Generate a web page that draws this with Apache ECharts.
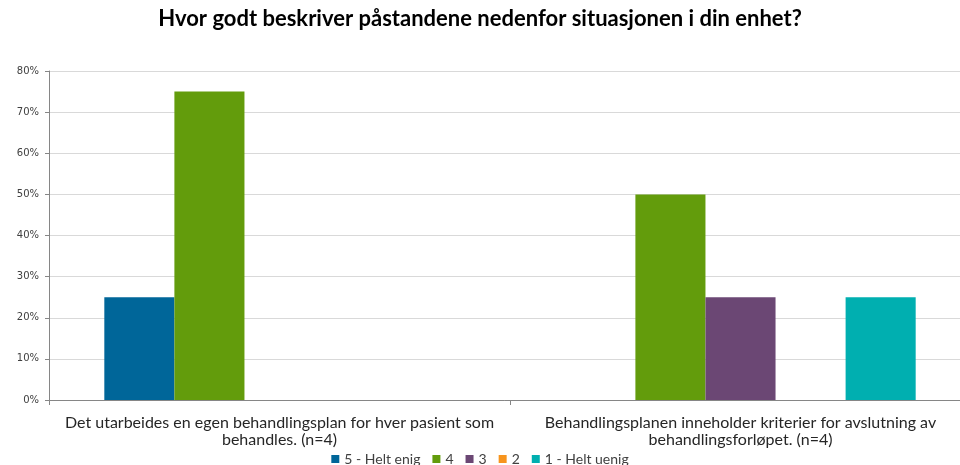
<!DOCTYPE html>
<html><head><meta charset="utf-8">
<script src="https://cdn.jsdelivr.net/npm/echarts@6/dist/echarts.min.js"></script>
<style>html,body{margin:0;padding:0;background:#fff}#c{width:960px;height:465px}</style>
</head><body><div id="c"></div>
<script>
var titleText = 'Hvor godt beskriver påstandene nedenfor situasjonen i din enhet?';
var categories = [
  'Det utarbeides en egen behandlingsplan for hver pasient som\nbehandles. (n=4)',
  'Behandlingsplanen inneholder kriterier for avslutning av\nbehandlingsforløpet. (n=4)'
];
var seriesNames = ['5 - Helt enig', '4', '3', '2', '1 - Helt uenig'];
var seriesColors = ['#006699', '#639C0C', '#6B4774', '#F7941D', '#00AFB0'];
var s5 = [25, 0];
var s4 = [75, 50];
var s3 = [0, 25];
var s2 = [0, 0];
var s1 = [0, 25];
var yTicks = [0, 10, 20, 30, 40, 50, 60, 70, 80];
var seriesData = [s5, s4, s3, s2, s1];

var font = "Lato, 'Open Sans', sans-serif";
var chart = echarts.init(document.getElementById('c'));
chart.setOption({
  animation: false,
  title: {
    text: titleText, left: 'center', top: 8, padding: 0,
    textStyle: { fontFamily: font, fontSize: 22, fontWeight: 'bold', color: '#000' }
  },
  legend: {
    top: 452, left: 'center', itemWidth: 8, itemHeight: 8, itemGap: 12, padding: 0,
    icon: 'rect',
    data: seriesNames,
    textStyle: { fontFamily: font, fontSize: 14, color: '#404040' }
  },
  grid: { left: 49, top: 71, width: 922, height: 329, containLabel: false, outerBoundsMode: 'none' },
  xAxis: {
    type: 'category', data: categories,
    axisLine: { lineStyle: { color: '#868686' } },
    axisTick: { show: true, length: 5, lineStyle: { color: '#868686' } },
    axisLabel: { fontFamily: font, fontSize: 16, color: '#262626', lineHeight: 17, margin: 14, interval: 0 }
  },
  yAxis: {
    type: 'value', min: yTicks[0], max: yTicks[yTicks.length - 1], interval: 10,
    axisLine: { show: true, lineStyle: { color: '#868686' } },
    axisTick: { show: true, length: 4, lineStyle: { color: '#868686' } },
    splitLine: { lineStyle: { color: '#D9D9D9' } },
    axisLabel: { formatter: '{value}%', fontFamily: 'DejaVu Sans', fontSize: 10, color: '#404040', margin: 10 }
  },
  series: seriesNames.map(function (n, i) {
    return {
      name: n, type: 'bar', data: seriesData[i],
      barGap: '0%', barCategoryGap: '24%',
      itemStyle: { color: seriesColors[i] }
    };
  })
});
</script></body></html>
